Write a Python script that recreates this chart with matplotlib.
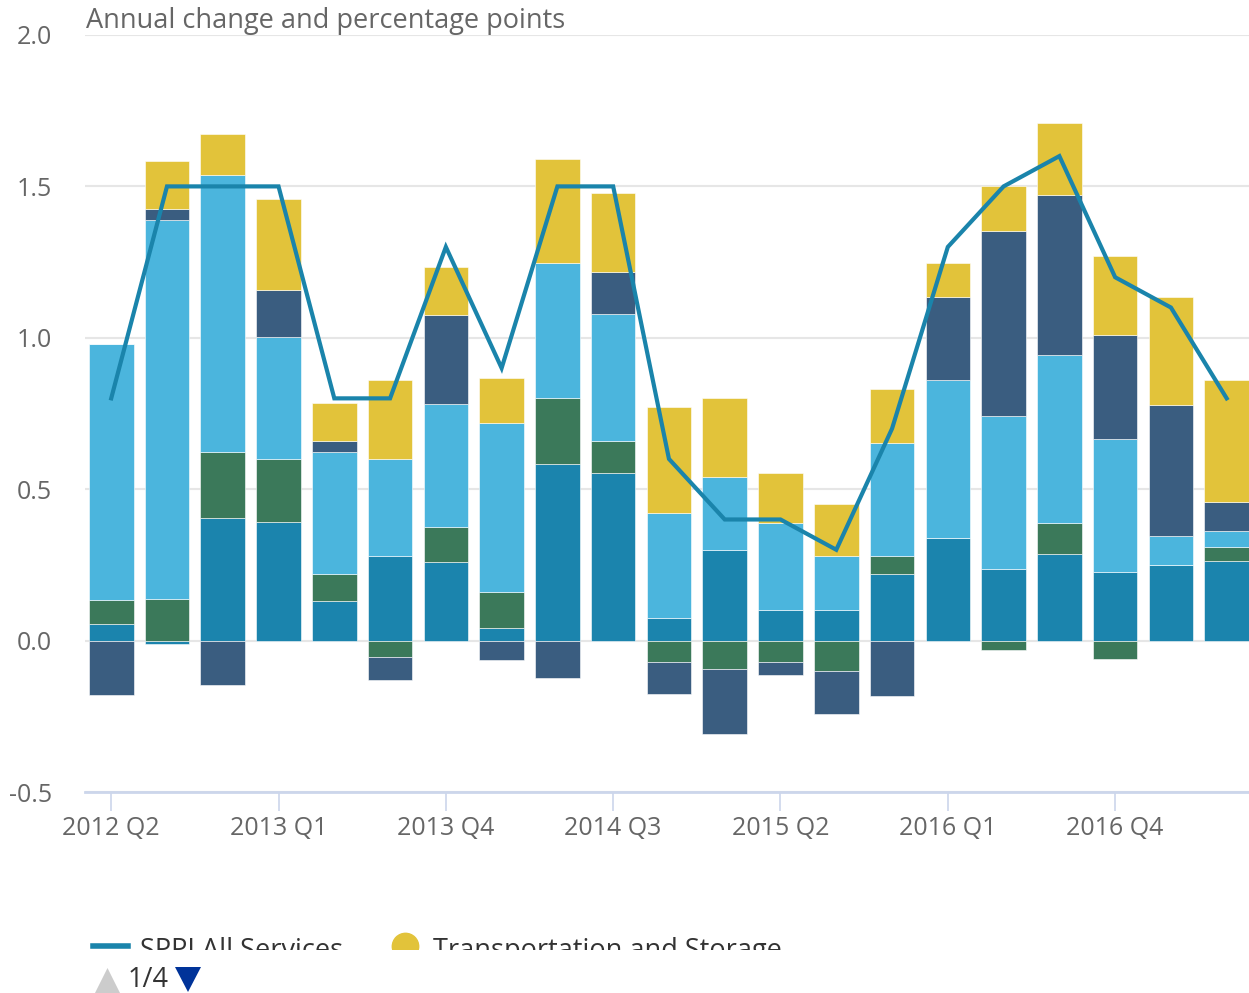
import matplotlib
matplotlib.use("Agg")
import matplotlib.pyplot as plt
import numpy as np
from matplotlib.patches import Rectangle, Polygon

plt.rcParams['font.family'] = ['Open Sans', 'DejaVu Sans']

quarters = ["2012 Q2", "2012 Q3", "2012 Q4", "2013 Q1", "2013 Q2", "2013 Q3", "2013 Q4",
            "2014 Q1", "2014 Q2", "2014 Q3", "2014 Q4", "2015 Q1", "2015 Q2", "2015 Q3",
            "2015 Q4", "2016 Q1", "2016 Q2", "2016 Q3", "2016 Q4", "2017 Q1", "2017 Q2"]

# contributions (percentage points)
teal = [0.055, -0.01, 0.405, 0.391, 0.131, 0.28, 0.258, 0.04, 0.584, 0.555, 0.076,
        0.30, 0.10, 0.10, 0.219, 0.339, 0.235, 0.287, 0.226, 0.249, 0.263]
green = [0.08, 0.136, 0.217, 0.208, 0.088, -0.055, 0.118, 0.12, 0.216, 0.104, -0.072,
         -0.093, -0.072, -0.102, 0.06, 0.0, -0.032, 0.103, -0.062, 0.0, 0.046]
lightblue = [0.845, 1.254, 0.916, 0.404, 0.403, 0.319, 0.404, 0.56, 0.448, 0.418, 0.345,
             0.239, 0.29, 0.179, 0.372, 0.521, 0.506, 0.554, 0.439, 0.098, 0.053]
navy = [-0.18, 0.036, -0.146, 0.155, 0.037, -0.075, 0.296, -0.064, -0.122, 0.141, -0.103,
        -0.216, -0.043, -0.139, -0.182, 0.276, 0.611, 0.528, 0.345, 0.431, 0.095]
transport = [0.0, 0.157, 0.135, 0.299, 0.127, 0.261, 0.157, 0.148, 0.342, 0.261, 0.35,
             0.261, 0.165, 0.172, 0.179, 0.112, 0.15, 0.238, 0.261, 0.358, 0.403]
sppi_all = [0.8, 1.5, 1.5, 1.5, 0.8, 0.8, 1.3, 0.9, 1.5, 1.5, 0.6, 0.4, 0.4, 0.3, 0.7,
            1.3, 1.5, 1.6, 1.2, 1.1, 0.8]

yticks = [-0.5, 0.0, 0.5, 1.0, 1.5, 2.0]

c_teal = "#1b84ad"
c_light = "#4bb5dd"
c_green = "#3b795a"
c_navy = "#3a5d80"
c_yellow = "#e2c33a"
c_line = "#1a84ab"

fig = plt.figure(figsize=(12.49, 9.93), dpi=100)
ax = fig.add_axes([85/1249, 1-792/993, 1-85/1249, (792-35)/993])

x = np.arange(len(quarters))
series = [(teal, c_teal), (green, c_green), (lightblue, c_light), (navy, c_navy), (transport, c_yellow)]
pos_base = np.zeros(len(x))
neg_base = np.zeros(len(x))
for vals, col in series:
    v = np.array(vals)
    base = np.where(v >= 0, pos_base, neg_base)
    ax.bar(x, v, bottom=base, width=0.8, color=col, edgecolor="white", linewidth=0.4, zorder=2)
    pos_base = pos_base + np.where(v >= 0, v, 0)
    neg_base = neg_base + np.where(v < 0, v, 0)

ax.plot(x, sppi_all, color=c_line, linewidth=3, zorder=3, solid_joinstyle='miter')

ax.set_xlim(-0.47, 20.4)
ax.set_ylim(-0.5, 2.0)
ax.set_yticks(yticks)
ax.set_yticklabels([f"{t:.1f}" for t in yticks])
ax.yaxis.grid(True, color="#e6e6e6", linewidth=1.5, zorder=0)
ax.set_axisbelow(True)
ax.tick_params(axis='y', length=0, pad=24, labelsize=18, labelcolor="#666666")
tick_idx = list(range(0, len(quarters), 3))
ax.set_xticks(tick_idx)
ax.set_xticklabels([quarters[i] for i in tick_idx])
ax.tick_params(axis='x', length=14, width=1.2, color="#ccd6eb", pad=3, labelsize=18, labelcolor="#666666")
for s in ["top", "right", "left"]:
    ax.spines[s].set_visible(False)
ax.spines["bottom"].set_color("#ccd6eb")
ax.spines["bottom"].set_linewidth(2)
ax.spines["bottom"].set_position(("data", -0.5))

fig.text(86/1249, 1-21/993, "Annual change and percentage points", fontsize=19.5, color="#666666",
         va="center", ha="left")

# legend (clipped)
fig.add_artist(plt.Line2D([93/1249, 128/1249], [1-946/993, 1-946/993], color=c_line, linewidth=4))
fig.text(140/1249, 1-951/993, "SPPI All Services", fontsize=19.5, color="#333333", va="center", ha="left")
fig.add_artist(plt.Line2D([405/1249], [1-946/993], marker='o', markersize=19, color=c_yellow, linestyle='none'))
fig.text(433/1249, 1-951/993, "Transportation and Storage", fontsize=19.5, color="#333333", va="center", ha="left")
fig.add_artist(Rectangle((0, 1-966/993), 1, (966-950)/993, transform=fig.transFigure,
                         facecolor="white", edgecolor="none", zorder=20))

# pagination
fig.add_artist(Polygon([[95/1249, 1-993/993], [120/1249, 1-993/993], [107.5/1249, 1-968/993]],
                       closed=True, transform=fig.transFigure, facecolor="#cccccc", edgecolor="none", zorder=21))
fig.text(128/1249, 1-980/993, "1/4", fontsize=19.5, color="#333333", va="center", ha="left", zorder=22)
fig.add_artist(Polygon([[175/1249, 1-967/993], [201/1249, 1-967/993], [188/1249, 1-992/993]],
                       closed=True, transform=fig.transFigure, facecolor="#003399", edgecolor="none", zorder=21))

fig.savefig("out.png", dpi=100, facecolor="white")
